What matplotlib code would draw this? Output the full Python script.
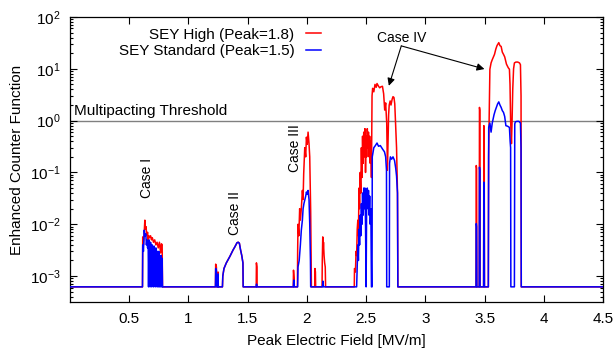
import numpy as np
import matplotlib
matplotlib.use('Agg')
import matplotlib.pyplot as plt

plt.rcParams['font.family'] = ['Liberation Sans', 'DejaVu Sans']
plt.rcParams['mathtext.default'] = 'regular'
plt.rcParams['font.size'] = 11

B = 6.2e-4  # floor level of the counter function

# SEY High (Peak=1.8)
red_x = [0.0, 0.612, 0.614, 0.62, 0.625, 0.632, 0.637, 0.642, 0.648, 0.655, 0.66, 0.665, 0.672,
         0.68, 0.688, 0.695, 0.705, 0.715, 0.725, 0.735, 0.745, 0.755, 0.765, 0.772, 0.778, 0.781,
         1.228, 1.23, 1.236, 1.238, 1.248, 1.25, 1.252,
         1.287, 1.29, 1.30, 1.32, 1.35, 1.377, 1.39, 1.41, 1.42, 1.43, 1.44, 1.45, 1.46, 1.462,
         1.572, 1.574, 1.578, 1.58,
         1.885, 1.887, 1.892, 1.894, 1.92, 1.922, 1.925, 1.932, 1.939, 1.945, 1.953, 1.962, 1.968,
         1.973, 1.982, 1.99, 1.996, 2.003, 2.01, 2.018, 2.024, 2.032, 2.038,
         2.066, 2.068, 2.072, 2.074,
         2.128, 2.13, 2.134, 2.137, 2.14, 2.145, 2.15, 2.155, 2.158,
         2.40, 2.402, 2.41, 2.415, 2.42, 2.425, 2.43, 2.435, 2.44, 2.445, 2.45, 2.455, 2.46, 2.465,
         2.47, 2.475, 2.48, 2.485, 2.49, 2.495, 2.50, 2.505, 2.51, 2.515, 2.52, 2.525, 2.53, 2.535,
         2.54, 2.545, 2.55, 2.555, 2.565, 2.575, 2.585, 2.592, 2.605, 2.615, 2.625, 2.638, 2.648,
         2.657, 2.665, 2.674, 2.68, 2.685, 2.69, 2.695, 2.703, 2.71, 2.72, 2.727, 2.735, 2.742,
         2.75, 2.757, 2.765, 2.768,
         3.428, 3.43, 3.433, 3.435, 3.455, 3.457, 3.46, 3.462, 3.492, 3.494, 3.497, 3.499,
         3.532, 3.534, 3.54, 3.545, 3.555, 3.565, 3.575, 3.584, 3.595, 3.605, 3.62, 3.63, 3.64,
         3.65, 3.66, 3.67, 3.685, 3.70, 3.71, 3.715, 3.72, 3.727, 3.732, 3.738, 3.745, 3.752,
         3.765, 3.78, 3.795, 3.803, 3.808, 3.81, 4.5]
red_y = [B, B, 0.0057, 0.004, 0.006, 0.012, 0.008, 0.009, 0.006, 0.007, 0.005, 0.006, 0.0055,
         0.006, 0.005, 0.0055, 0.0045, 0.005, 0.004, 0.0045, 0.0035, 0.0045, 0.0028, 0.0042, 0.004, B,
         B, 0.0017, 0.0015, B, B, 0.0012, B,
         B, 0.001, 0.0014, 0.0018, 0.0024, 0.0032, 0.0036, 0.0044, 0.0045, 0.0043, 0.0032, 0.0025, 0.0018, B,
         B, 0.0018, 0.0015, B,
         B, 0.0013, 0.0009, B, B, 0.003, 0.01, 0.006, 0.02, 0.012, 0.02, 0.045, 0.03,
         0.094, 0.3, 0.2, 0.48, 0.35, 0.6, 0.36, 0.2, 0.018, B,
         B, 0.0014, 0.0012, B,
         B, 0.002, 0.0057, 0.003, 0.0045, 0.0025, 0.0018, 0.0015, B,
         B, 0.0014, 0.0012, 0.003, 0.0025, 0.008, 0.012, 0.006, 0.05, 0.02, 0.1, 0.04, 0.3, 0.08,
         0.5, 0.15, 0.6, 0.2, 0.7, 0.1, 0.5, 0.2, 0.7, 0.3, 0.6, 0.2, 0.5, 0.15,
         0.4, 0.08, 3.0, 4.2, 3.6, 5.0, 4.4, 5.2, 4.6, 4.3, 4.5, 4.6, 3.3,
         1.6, 2.2, 0.9, 0.11, 0.41, 1.3, 2.0, 2.4, 2.0, 2.6, 2.9, 2.8, 2.1,
         0.74, 0.3, 0.04, B,
         B, 0.136, 0.12, B, B, 1.8, 1.6, B, B, 0.8, 0.7, B,
         B, 0.2, 1.5, 9.8, 13, 15, 17, 19, 24, 28, 32, 28, 27,
         21, 19, 17, 12.3, 10.5, 9.8, 5.0, 1.0, 0.36, 0.9, 4.0, 10, 13,
         13.5, 13.5, 13, 12, 3.0, B, B]

# SEY Standard (Peak=1.5)
blue_x = [0.0, 0.612, 0.614, 0.62, 0.627, 0.632, 0.64, 0.645, 0.65, 0.655, 0.66, 0.663,
          0.667, 0.672, 0.676, 0.68, 0.685, 0.69, 0.694, 0.70, 0.705, 0.71, 0.715, 0.72, 0.725,
          0.73, 0.735, 0.74, 0.745, 0.75, 0.755, 0.76, 0.765, 0.77, 0.775, 0.778, 0.781,
          1.228, 1.23, 1.236, 1.238, 1.248, 1.25, 1.252,
          1.287, 1.29, 1.30, 1.32, 1.35, 1.377, 1.39, 1.41, 1.42, 1.43, 1.44, 1.45, 1.46, 1.462,
          1.572, 1.575, 1.578,
          1.886, 1.889, 1.892, 1.922, 1.925, 1.935, 1.945, 1.953, 1.962, 1.968, 1.975, 1.982,
          1.99, 1.996, 2.003, 2.01, 2.018, 2.024, 2.03, 2.032,
          2.132, 2.135, 2.14,
          2.42, 2.425, 2.43, 2.435, 2.44, 2.445, 2.45, 2.455, 2.46, 2.465, 2.47, 2.475, 2.48, 2.485,
          2.49, 2.495, 2.50, 2.505, 2.51, 2.515, 2.52, 2.525, 2.53, 2.535, 2.54, 2.545, 2.55,
          2.552, 2.565, 2.578, 2.592, 2.605, 2.62, 2.64, 2.655, 2.665, 2.672, 2.674, 2.696, 2.698,
          2.705, 2.715, 2.727, 2.74, 2.75, 2.757, 2.765, 2.768,
          3.428, 3.43, 3.433, 3.435, 3.455, 3.457, 3.46, 3.462, 3.492, 3.494, 3.497, 3.499,
          3.532, 3.535, 3.545, 3.555, 3.565, 3.58, 3.59, 3.6, 3.61, 3.62, 3.63, 3.64, 3.65, 3.66,
          3.67, 3.68, 3.695, 3.71, 3.716, 3.72, 3.722, 3.752, 3.755, 3.76, 3.775, 3.79, 3.803,
          3.808, 3.81, 4.5]
blue_y = [B, B, 0.004, 0.003, 0.0077, 0.006, 0.0065, 0.004, 0.005, 0.0035, 0.004, B,
          0.005, 0.004, B, 0.0045, 0.003, B, 0.004, 0.0035, B, 0.0038, 0.003, B, 0.0035,
          0.0028, B, 0.003, B, 0.003, B, 0.0025, B, 0.0025, B, 0.0022, B,
          B, 0.0014, 0.0013, B, B, 0.0011, B,
          B, 0.001, 0.0014, 0.0018, 0.0024, 0.0032, 0.0036, 0.0044, 0.0045, 0.0043, 0.0032, 0.0025, 0.0018, B,
          B, 7e-4, B,
          B, 8.4e-4, B, B, 0.0015, 0.002, 0.004, 0.0077, 0.012, 0.02, 0.025, 0.029,
          0.035, 0.042, 0.038, 0.045, 0.03, 0.0103, 0.002, B,
          B, 8e-4, B,
          B, 0.0015, 0.004, 0.002, 0.008, 0.004, 0.015, 0.006, 0.025, 0.01, 0.04, 0.015, 0.05, 0.02,
          0.05, 0.01, B, 0.04, 0.05, 0.02, 0.045, 0.015, 0.035, 0.01, 0.02, B, B,
          0.2, 0.3, 0.33, 0.37, 0.32, 0.33, 0.28, 0.25, 0.2, 0.11, B, B, 0.15,
          0.2, 0.18, 0.2, 0.17, 0.12, 0.085, 0.04, B,
          B, 0.0103, 0.009, B, B, 0.126, 0.11, B, B, 0.065, 0.06, B,
          B, 0.74, 0.9, 0.6, 0.9, 1.3, 1.56, 1.8, 2.1, 2.3, 2.0, 1.8, 1.56, 1.44,
          1.2, 0.8, 0.78, 0.74, 0.4, 0.3, B, B, 0.86, 0.95, 0.97, 0.97, 0.9,
          0.3, B, B]

xticks = [0.5, 1, 1.5, 2, 2.5, 3, 3.5, 4, 4.5]
xticklabels = ['0.5', '1', '1.5', '2', '2.5', '3', '3.5', '4', '4.5']

fig = plt.figure(figsize=(6.15, 3.55), dpi=100)
ax = fig.add_axes([70 / 615, 1 - 302 / 355, 533 / 615, 285 / 355])

ax.axhline(1.0, color='#808080', lw=1.0, zorder=1)
ax.text(0.034, 1.12, 'Multipacting Threshold', ha='left', va='bottom', fontsize=11)

ax.plot(red_x, red_y, color='#ff0000', lw=1.1, label='SEY High (Peak=1.8)', zorder=2)
ax.plot(blue_x, blue_y, color='#0000ff', lw=1.1, label='SEY Standard (Peak=1.5)', zorder=3)

ax.set_yscale('log')
ax.set_xlim(0, 4.5)
ax.set_ylim(10 ** -3.5, 100)
ax.set_xticks(xticks)
ax.set_xticklabels(xticklabels)
ax.set_yticks([1e-3, 1e-2, 1e-1, 1, 10, 100])
ax.tick_params(which='both', direction='in', top=True, right=True, labelsize=11)
ax.tick_params(which='major', length=5, width=0.8, pad=7)
ax.tick_params(which='minor', length=2.5, width=0.8)
for s in ax.spines.values():
    s.set_linewidth(0.9)

ax.set_xlabel('Peak Electric Field [MV/m]', fontsize=11, labelpad=6)
ax.set_ylabel('Enhanced Counter Function', fontsize=11, labelpad=4)

# case labels
ax.text(0.649, 0.077, 'Case I', rotation=90, ha='center', va='center', fontsize=10)
ax.text(1.391, 0.0163, 'Case II', rotation=90, ha='center', va='center', fontsize=10)
ax.text(1.897, 0.29, 'Case III', rotation=90, ha='center', va='center', fontsize=10)
ax.text(2.8, 40, 'Case IV', ha='center', va='center', fontsize=10)
for tip in [(2.692, 4.7), (3.499, 9.9)]:
    ax.annotate('', xy=tip, xytext=(2.797, 27.7),
                arrowprops=dict(arrowstyle='-|>', color='black', lw=0.8,
                                mutation_scale=11, shrinkA=0, shrinkB=0))

ax.legend(loc='upper right', bbox_to_anchor=(329 / 615, 1 - 20 / 355),
          bbox_transform=fig.transFigure, frameon=False, markerfirst=False,
          handlelength=1.0, handletextpad=0.75, labelspacing=0.15, borderpad=0,
          fontsize=11)

fig.savefig('out.png', dpi=100)
